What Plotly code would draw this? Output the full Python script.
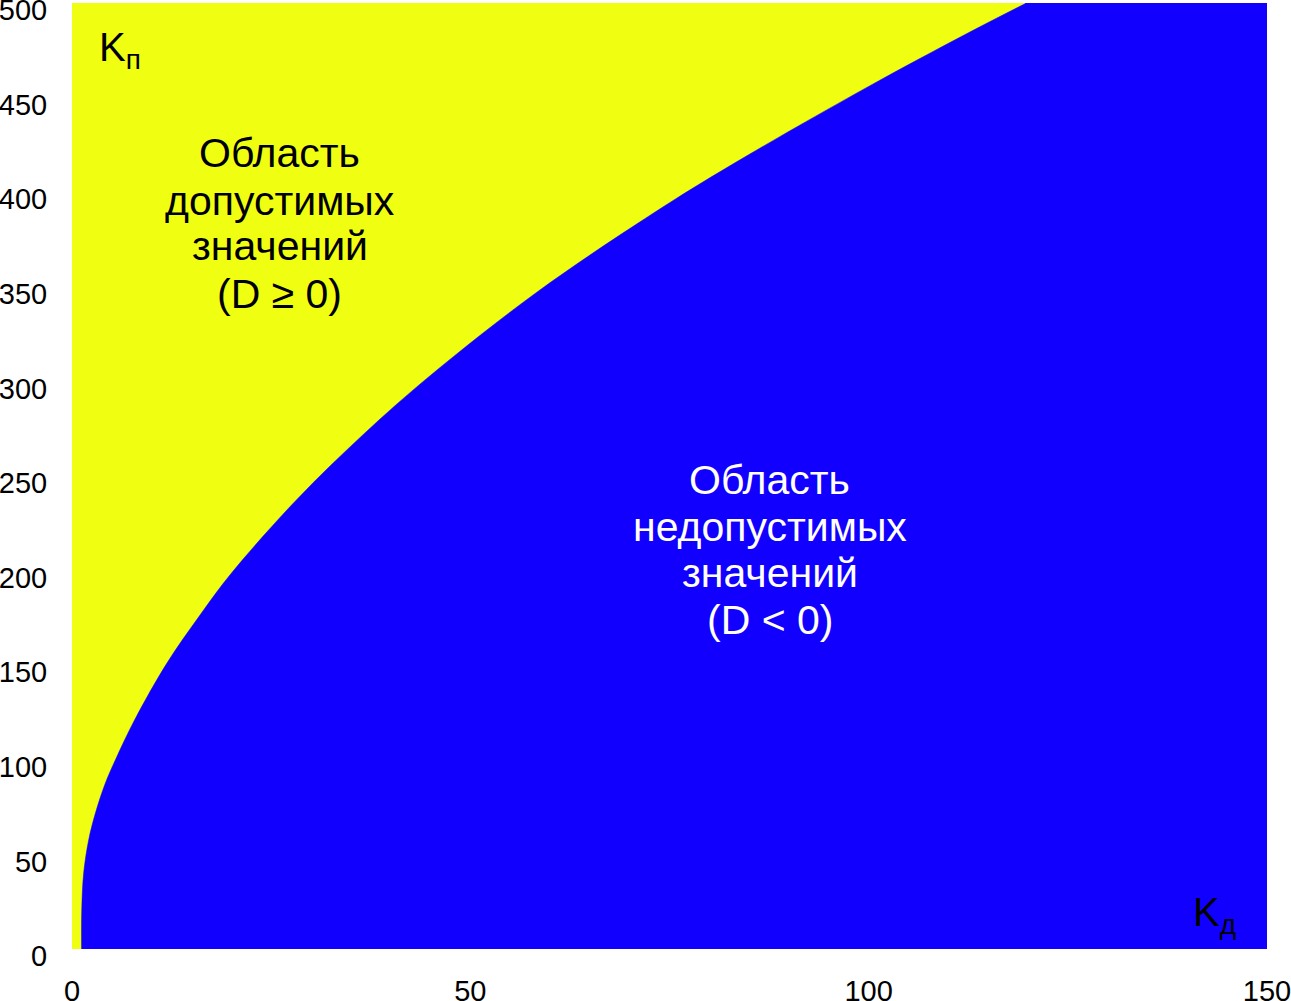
import plotly.graph_objects as go

# boundary D = 0
kd_curve = [1.2, 1.22, 1.46, 2.09, 2.93, 4.18, 5.44, 7.85, 11.9, 16.07,
            20.0, 28.2, 36.7, 44.8, 58.3, 73.0, 83.0, 99.6, 112.4, 119.8]
kp_curve = [0, 20, 40, 57.6, 71.7, 87.6, 99.9, 121, 151, 176.5,
            198.6, 237.5, 272.5, 302.5, 347, 389, 415, 455, 484, 500]
# right strip where the whole Kp range is inadmissible
kd_strip = [119.8, 119.8, 150]
kp_strip = [0, 500, 500]

x_ticks = [0, 50, 100, 150]
y_ticks = [0, 50, 100, 150, 200, 250, 300, 350, 400, 450, 500]

left_lines = ["Область", "допустимых", "значений", "(D ≥ 0)"]
left_kp = [420.7, 395.3, 371.6, 346.2]
right_lines = ["Область", "недопустимых", "значений", "(D < 0)"]
right_kp = [247.9, 223.0, 198.7, 173.9]

YELLOW = "#F0FF12"
BLUE = "#1200FF"
FONT = "Arial, Liberation Sans, sans-serif"

fig = go.Figure()
fig.add_trace(go.Scatter(
    x=kd_curve, y=kp_curve, mode="lines",
    line=dict(color=BLUE, width=0.5, shape="spline", smoothing=1.0),
    fill="tozeroy", fillcolor=BLUE, hoverinfo="skip",
))
fig.add_trace(go.Scatter(
    x=kd_strip, y=kp_strip, mode="lines",
    line=dict(color=BLUE, width=2),
    fill="tozeroy", fillcolor=BLUE, hoverinfo="skip",
))

for txt, yv in zip(left_lines, left_kp):
    fig.add_annotation(x=26.1, y=yv, text=txt, showarrow=False,
                       font=dict(size=41, color="black"))
for txt, yv in zip(right_lines, right_kp):
    fig.add_annotation(x=87.6, y=yv, text=txt, showarrow=False,
                       font=dict(size=41, color="white"))

fig.add_annotation(x=6.0, y=475, text="K<sub>п</sub>",
                   showarrow=False, font=dict(size=40, color="black"))
fig.add_annotation(x=143.4, y=18, text="K<sub>д</sub>",
                   showarrow=False, font=dict(size=40, color="black"))

fig.update_layout(
    width=1291, height=1001,
    margin=dict(l=72, r=24, t=3, b=52),
    paper_bgcolor="white", plot_bgcolor=YELLOW,
    font=dict(family=FONT, size=29, color="black"),
    showlegend=False,
)
fig.update_xaxes(range=[0, 150], tickvals=x_ticks, showgrid=False, zeroline=False,
                 showline=False, ticks="outside", ticklen=16,
                 tickcolor="rgba(0,0,0,0)", automargin=False,
                 ticklabeloverflow="allow")
fig.update_yaxes(range=[0, 500], tickvals=y_ticks, showgrid=False, zeroline=False,
                 showline=False, ticks="outside", ticklen=18,
                 tickcolor="rgba(0,0,0,0)", ticklabelshift=7, automargin=False,
                 ticklabeloverflow="allow")

# page margin off so the figure sits at the window corner
fig.write_html("out.html", config={"displayModeBar": False},
               post_script="document.body.style.margin='0';")
